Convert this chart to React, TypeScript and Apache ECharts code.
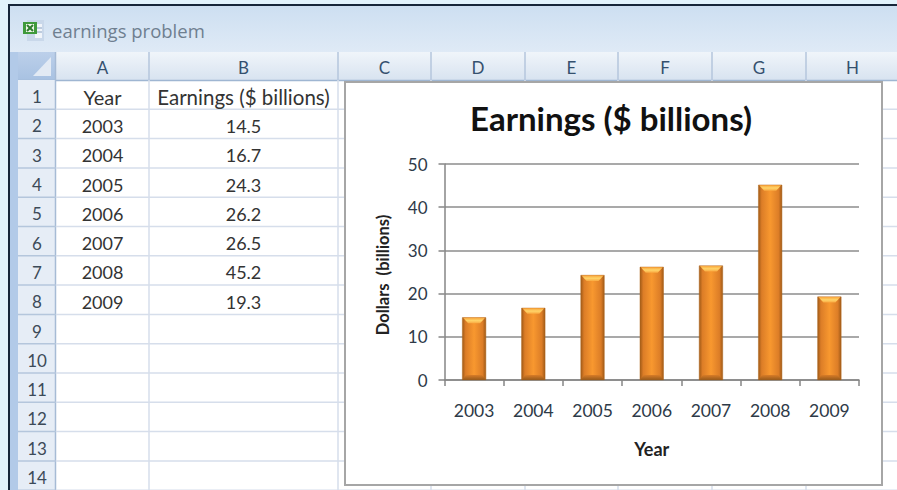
import React, { useEffect, useRef } from "react";
import * as echarts from "echarts";

const years = ["2003", "2004", "2005", "2006", "2007", "2008", "2009"];
const earnings = [14.5, 16.7, 24.3, 26.2, 26.5, 45.2, 19.3];
const columnLetters = ["A", "B", "C", "D", "E", "F", "G", "H"];
const columnEdges = [56, 149, 338, 431, 525, 618, 712, 806, 899];
const rowNumbers = [1, 2, 3, 4, 5, 6, 7, 8, 9, 10, 11, 12, 13, 14];

const SHEET_FONT = "Lato";
const ROW_TOP = 80;
const ROW_H = 29.3;
const BAR_W = 24;

function vGrad(a: string, b: string) {
  return new echarts.graphic.LinearGradient(0, 0, 0, 1, [
    { offset: 0, color: a },
    { offset: 1, color: b },
  ]);
}

function rect(x: number, y: number, width: number, height: number, fill: any) {
  return { type: "rect", shape: { x, y, width, height }, style: { fill } };
}

function line(x1: number, y1: number, x2: number, y2: number, stroke: string, lineWidth = 1) {
  return { type: "line", shape: { x1, y1, x2, y2 }, style: { stroke, lineWidth } };
}

function label(text: string, x: number, y: number, fontSize: number, fill: string, align = "center") {
  return {
    type: "text",
    x,
    y,
    style: { text, fontSize, fontFamily: SHEET_FONT, fill, align, verticalAlign: "middle" },
  };
}

// Worksheet window behind the chart: frame, title bar, headers, grid and cells.
function sheetElements() {
  const els: any[] = [];
  els.push(rect(0, 0, 897, 490, "#e2f3fc"));
  els.push(rect(8, 4, 889, 486, "#16263a"));
  els.push(rect(10, 6, 887, 46, vGrad("#cddff1", "#dfeaf6")));
  els.push(rect(10, 52, 887, 438, "#b2cae8"));
  els.push(rect(18, 52, 879, 438, "#ffffff"));

  // Column header strip and select-all corner
  els.push(rect(18, 52, 879, 28, vGrad("#f0f5fa", "#d8e3f0")));
  els.push(rect(18, 52, 38, 28, vGrad("#bcd0ea", "#a8c2e2")));
  els.push({
    type: "polygon",
    shape: { points: [[51, 57], [51, 76], [33, 76]] },
    style: { fill: "#e2eaf4" },
  });
  els.push(line(18, 80.5, 897, 80.5, "#9fb6d2", 1.5));

  // Row header strip
  els.push(rect(18, 80, 38, 410, "#e6edf6"));
  els.push(line(55.5, 52, 55.5, 490, "#a6bbd5", 1.5));

  // Cell grid
  rowNumbers.forEach((n, i) => {
    const y = ROW_TOP + (i + 1) * ROW_H;
    els.push(line(56, y, 897, y, "#d6deeb", 1.5));
    els.push(line(18, y, 56, y, "#b4c6dc", 1.5));
    els.push(label(String(n), 37, y - ROW_H / 2 + 2, 17, "#3c4a58"));
  });
  columnEdges.slice(1, -1).forEach((x) => {
    els.push(line(x, 80, x, 490, "#d6deeb", 1.5));
    els.push(line(x, 52, x, 80, "#b4c6dc", 1.5));
  });
  columnLetters.forEach((c, i) => {
    els.push(label(c, (columnEdges[i] + columnEdges[i + 1]) / 2, 67, 17, "#35506e"));
  });

  // Cell contents
  const colA = (columnEdges[0] + columnEdges[1]) / 2;
  const colB = (columnEdges[1] + columnEdges[2]) / 2;
  els.push(label("Year", colA, ROW_TOP + ROW_H / 2 + 2, 20, "#333333"));
  els.push(label("Earnings ($ billions)", colB, ROW_TOP + ROW_H / 2 + 2, 20.5, "#333333"));
  years.forEach((y, i) => {
    const cy = ROW_TOP + (i + 1.5) * ROW_H + 2;
    els.push(label(y, colA, cy, 18, "#333333"));
    els.push(label(earnings[i].toFixed(1), colB, cy, 18, "#333333"));
  });

  // Title bar workbook icon and caption
  els.push(rect(27, 20, 17, 21, "#c9d8ea"));
  els.push(rect(35, 24, 7, 14, "#f1f5fa"));
  els.push(line(36, 28, 42, 28, "#8aa3c2", 1));
  els.push(line(36, 32, 42, 32, "#8aa3c2", 1));
  els.push(rect(23, 22, 14, 12, "#3f9a3c"));
  els.push(rect(26, 24, 8, 8, "#eef6e8"));
  els.push(line(27, 25, 33, 31, "#2f7d2f", 2));
  els.push(line(33, 25, 27, 31, "#2f7d2f", 2));
  els.push({
    type: "text",
    x: 52,
    y: 30,
    style: {
      text: "earnings problem",
      fontSize: 18.5,
      fontFamily: "Open Sans",
      fill: "#6f7f90",
      align: "left",
      verticalAlign: "middle",
    },
  });

  // Chart area panel
  els.push({
    type: "rect",
    shape: { x: 345, y: 82, width: 537, height: 403 },
    style: { fill: "#ffffff", stroke: "#a6a6a6", lineWidth: 2 },
  });
  return els;
}

// Bevel drawn over each column: a bright cap at the top and a shaded foot.
function renderBevel(_params: any, api: any) {
  const [cx, top] = api.coord([api.value(0), api.value(1)]);
  const [, base] = api.coord([api.value(0), 0]);
  const l = cx - BAR_W / 2;
  const r = cx + BAR_W / 2;
  return {
    type: "group",
    children: [
      {
        type: "polygon",
        shape: { points: [[l + 1, top + 0.5], [r - 1, top + 0.5], [r - 6, top + 6], [l + 6, top + 6]] },
        style: {
          fill: new echarts.graphic.LinearGradient(0, 0, 0, 1, [
            { offset: 0, color: "#f9a63c" },
            { offset: 0.5, color: "#ffd469" },
            { offset: 1, color: "#f9a840" },
          ]),
        },
      },
      {
        type: "polygon",
        shape: { points: [[l, base], [r, base], [r - 4, base - 5], [l + 4, base - 5]] },
        style: {
          fill: new echarts.graphic.LinearGradient(0, 0, 0, 1, [
            { offset: 0, color: "#d87c27" },
            { offset: 1, color: "#96591b" },
          ]),
        },
      },
    ],
  };
}

export default function App() {
  const ref = useRef<HTMLDivElement>(null);

  useEffect(() => {
    document.body.style.margin = "0";
    const chart = echarts.init(ref.current!, null, { renderer: "svg" });
    chart.setOption({
      animation: false,
      textStyle: { fontFamily: SHEET_FONT },
      title: {
        text: "Earnings ($ billions)",
        left: 465,
        top: 96,
        textStyle: { fontSize: 33, fontWeight: "bold", color: "#111111", fontFamily: SHEET_FONT },
      },
      graphic: { z: -1, elements: sheetElements() },
      grid: { left: 444.5, right: 38, top: 164, bottom: 110 },
      xAxis: {
        type: "category",
        data: years,
        name: "Year",
        nameLocation: "middle",
        nameGap: 60,
        nameTextStyle: { fontSize: 18, fontWeight: "bold", color: "#222222" },
        axisLine: { lineStyle: { color: "#868686", width: 1.5 } },
        axisTick: { show: true, alignWithLabel: false, length: 6, lineStyle: { color: "#868686", width: 1.5 } },
        axisLabel: { fontSize: 17.5, color: "#2e3a48", margin: 21 },
      },
      yAxis: {
        type: "value",
        min: 0,
        max: 50,
        interval: 10,
        name: "Dollars  (billions)",
        nameLocation: "middle",
        nameGap: 53,
        nameTextStyle: { fontSize: 16.5, fontWeight: "bold", color: "#222222", padding: [0, 6, 0, 0] },
        axisLine: { show: true, lineStyle: { color: "#868686", width: 1.5 } },
        axisTick: { show: true, length: 6, lineStyle: { color: "#868686", width: 1.5 } },
        axisLabel: { fontSize: 17, color: "#2e3a48", margin: 17 },
        splitLine: { lineStyle: { color: "#8c8c8c", width: 1.5 } },
      },
      series: [
        {
          type: "bar",
          data: earnings,
          barWidth: BAR_W,
          itemStyle: {
            color: new echarts.graphic.LinearGradient(1, 0, 0, 0, [
              { offset: 0, color: "#a05a17" },
              { offset: 0.14, color: "#dc7d27" },
              { offset: 0.5, color: "#f8982f" },
              { offset: 0.86, color: "#dc7d27" },
              { offset: 1, color: "#a05a17" },
            ]),
            borderColor: "#b2691f",
            borderWidth: 0.5,
          },
        },
        {
          type: "custom",
          data: earnings.map((v, i) => [i, v]),
          renderItem: renderBevel,
          silent: true,
          z: 3,
        },
      ],
    });
    return () => chart.dispose();
  }, []);

  return <div ref={ref} style={{ width: 897, height: 490 }} />;
}
